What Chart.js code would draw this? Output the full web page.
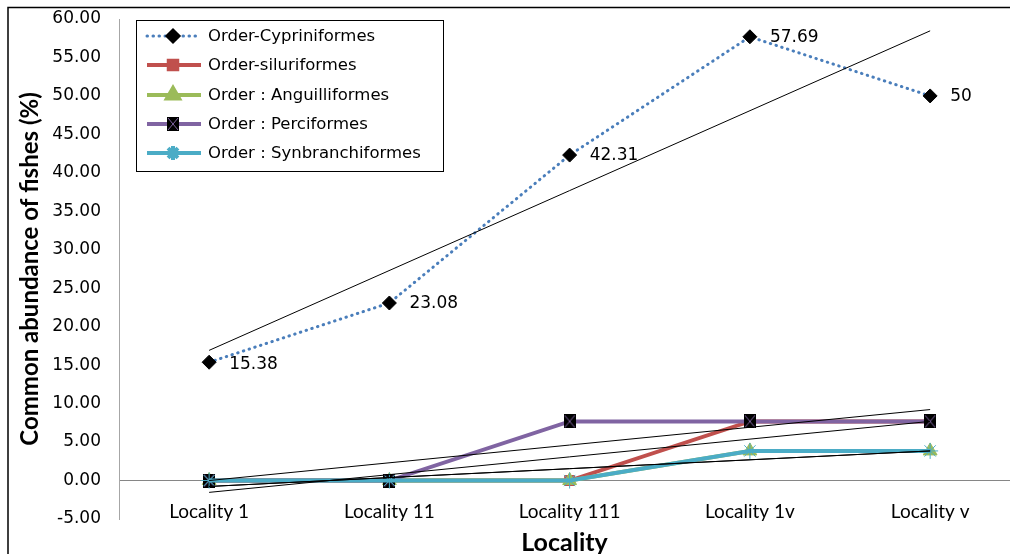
<!DOCTYPE html>
<html><head><meta charset="utf-8">
<script src="https://cdn.jsdelivr.net/npm/chart.js@4/dist/chart.umd.min.js"></script>
<style>html,body{margin:0;padding:0;background:#fff;}#wrap{width:1010px;height:554px;}</style>
</head><body><div id="wrap"><canvas id="c" width="1010" height="554"></canvas></div>
<script>
// ─── DATA ───────────────────────────────────────────────
const LOCALITIES=['Locality 1','Locality 11','Locality 111','Locality 1v','Locality v'];
const CYPRINIFORMES=[15.38,23.08,42.31,57.69,50];
const SILURIFORMES=[0,0,0,7.69,7.69];
const ANGUILLIFORMES=[0,0,0,3.85,3.85];
const PERCIFORMES=[0,0,7.69,7.69,7.69];
const SYNBRANCHIFORMES=[0,0,0,3.85,3.85];
const SERIES_NAMES=['Order-Cypriniformes','Order-siluriformes','Order : Anguilliformes','Order : Perciformes','Order : Synbranchiformes'];
const Y_MIN=-5, Y_MAX=60, Y_STEP=5;
const X_MIN=-0.5, X_MAX=4.443;

// linear least-squares trendline (like Excel's linear trendline)
function trend(vals){
  const n=vals.length, mx=(n-1)/2, my=vals.reduce((s,v)=>s+v,0)/n;
  let num=0,den=0;
  vals.forEach((v,i)=>{num+=(i-mx)*(v-my);den+=(i-mx)*(i-mx);});
  const b=num/den, a=my-b*mx;
  return [{x:0,y:a},{x:n-1,y:a+b*(n-1)}];
}
const pts=vals=>vals.map((v,i)=>({x:i,y:v}));

// black box with an X, used for Perciformes
function boxX(w,h){
  const c=document.createElement('canvas');c.width=w;c.height=h;
  const g=c.getContext('2d');
  g.fillStyle='#000';g.fillRect(0,0,w,h);
  g.strokeStyle='#8064a2';g.lineWidth=1;
  g.beginPath();g.moveTo(1,1);g.lineTo(w-1,h-1);g.moveTo(w-1,1);g.lineTo(1,h-1);g.stroke();
  return c;
}
const percMark=boxX(12,14);

const series=[
  {label:SERIES_NAMES[0],data:pts(CYPRINIFORMES),order:5,borderColor:'#4a7ebb',borderWidth:3,borderDash:[0.5,5.5],borderCapStyle:'round',
   pointStyle:'rectRot',pointRadius:7,pointBackgroundColor:'#000',pointBorderColor:'#000',pointBorderWidth:1},
  {label:SERIES_NAMES[1],data:pts(SILURIFORMES),order:4,borderColor:'#c0504d',borderWidth:4,
   pointStyle:'rect',pointRadius:7,pointBackgroundColor:'#c0504d',pointBorderColor:'#c0504d',pointBorderWidth:1},
  {label:SERIES_NAMES[2],data:pts(ANGUILLIFORMES),order:3,borderColor:'#9bbb59',borderWidth:4,
   pointStyle:'triangle',pointRadius:8,pointBackgroundColor:'#9bbb59',pointBorderColor:'#9bbb59',pointBorderWidth:1},
  {label:SERIES_NAMES[3],data:pts(PERCIFORMES),order:2,borderColor:'#8064a2',borderWidth:4,
   pointStyle:percMark,pointRadius:7,pointBackgroundColor:'#000',pointBorderColor:'#000'},
  {label:SERIES_NAMES[4],data:pts(SYNBRANCHIFORMES),order:1,borderColor:'#4bacc6',borderWidth:4,
   pointStyle:'star',pointRadius:8,pointBackgroundColor:'#4bacc6',pointBorderColor:'#4bacc6',pointBorderWidth:1}
];
const trends=[CYPRINIFORMES,SILURIFORMES,ANGUILLIFORMES,PERCIFORMES,SYNBRANCHIFORMES].map(v=>({
  label:'',data:trend(v),order:0,borderColor:'#000',borderWidth:1,pointRadius:0
}));

// ─── PLUGINS ────────────────────────────────────────────
const frame={id:'frame',afterDraw(chart){
  const c=chart.ctx;c.save();c.strokeStyle='#000';c.lineWidth=1.5;
  c.beginPath();c.moveTo(8,554);c.lineTo(8,7.5);c.lineTo(1010,7.5);c.stroke();c.restore();
}};
const valueLabels={id:'valueLabels',afterDatasetsDraw(chart){
  const c=chart.ctx, meta=chart.getDatasetMeta(0);
  c.save();c.font='17px "DejaVu Sans"';c.fillStyle='#000';c.textAlign='left';c.textBaseline='middle';
  meta.data.forEach((p,i)=>{c.fillText(String(CYPRINIFORMES[i]),p.x+20,p.y+(i===0?2:1));});
  c.restore();
}};
const boxLegend={id:'boxLegend',afterDraw(chart){
  const c=chart.ctx, x0=136, y0=20, w=307, h=151, rowY=[36,65,95,124,153];
  c.save();
  c.fillStyle='#fff';c.fillRect(x0,y0,w,h);
  c.strokeStyle='#000';c.lineWidth=1;c.strokeRect(x0+0.5,y0+0.5,w,h);
  series.forEach((d,i)=>{
    const y=rowY[i];
    c.strokeStyle=d.borderColor;c.lineWidth=d.borderWidth;c.lineCap=d.borderCapStyle||'butt';
    c.setLineDash(d.borderDash||[]);
    c.beginPath();c.moveTo(147,y);c.lineTo(201,y);c.stroke();
    c.setLineDash([]);c.lineCap='butt';
    c.fillStyle=d.pointBackgroundColor;c.strokeStyle=d.pointBorderColor;
    Chart.helpers.drawPoint(c,{pointStyle:d.pointStyle,radius:d.pointRadius-1,rotation:0,borderWidth:d.pointBorderWidth||1},173,y);
    c.fillStyle='#000';c.font='16.5px "DejaVu Sans"';c.textAlign='left';c.textBaseline='middle';
    c.fillText(d.label,208,y+1);
  });
  c.restore();
}};

// ─── CHART ──────────────────────────────────────────────
new Chart(document.getElementById('c'),{
  type:'line',
  data:{datasets:[...series,...trends]},
  options:{
    responsive:false,animation:false,
    layout:{autoPadding:false,padding:{left:10,top:19,right:0,bottom:0}},
    elements:{line:{tension:0,fill:false}},
    plugins:{legend:{display:false},tooltip:{enabled:false}},
    scales:{
      x:{type:'linear',min:X_MIN,max:X_MAX,bounds:'data',
        afterBuildTicks:s=>{s.min=X_MIN;s.max=X_MAX;s.ticks=LOCALITIES.map((_,i)=>({value:i}));},
        afterFit:s=>{s.height=35;s.paddingLeft=0;s.paddingRight=0;},
        ticks:{callback:v=>LOCALITIES[v]??'',autoSkip:false,maxRotation:0,mirror:true,padding:-4,font:{family:'Lato',size:19},color:'#000'},
        grid:{display:false},border:{display:false},
        title:{display:true,text:'Locality',font:{family:'Lato',size:25,weight:'bold',lineHeight:1},color:'#000',padding:{top:0,bottom:-1}}},
      y:{min:Y_MIN,max:Y_MAX,
        afterFit:s=>{s.width=109;s.paddingTop=0;s.paddingBottom=0;},
        ticks:{stepSize:Y_STEP,callback:v=>v.toFixed(2),font:{family:'DejaVu Sans',size:17},color:'#000',padding:18},
        grid:{drawTicks:false,lineWidth:1,color:ctx=>ctx.tick&&ctx.tick.value===0?'#868686':'rgba(0,0,0,0)'},
        border:{color:'#a6a6a6',width:1},
        title:{display:true,text:'Common abundance of fishes (%)',font:{family:'Lato',size:24,weight:'bold',lineHeight:1},color:'#000',padding:{top:8,bottom:0}}}
    }
  },
  plugins:[valueLabels,boxLegend,frame]
});
</script></body></html>
